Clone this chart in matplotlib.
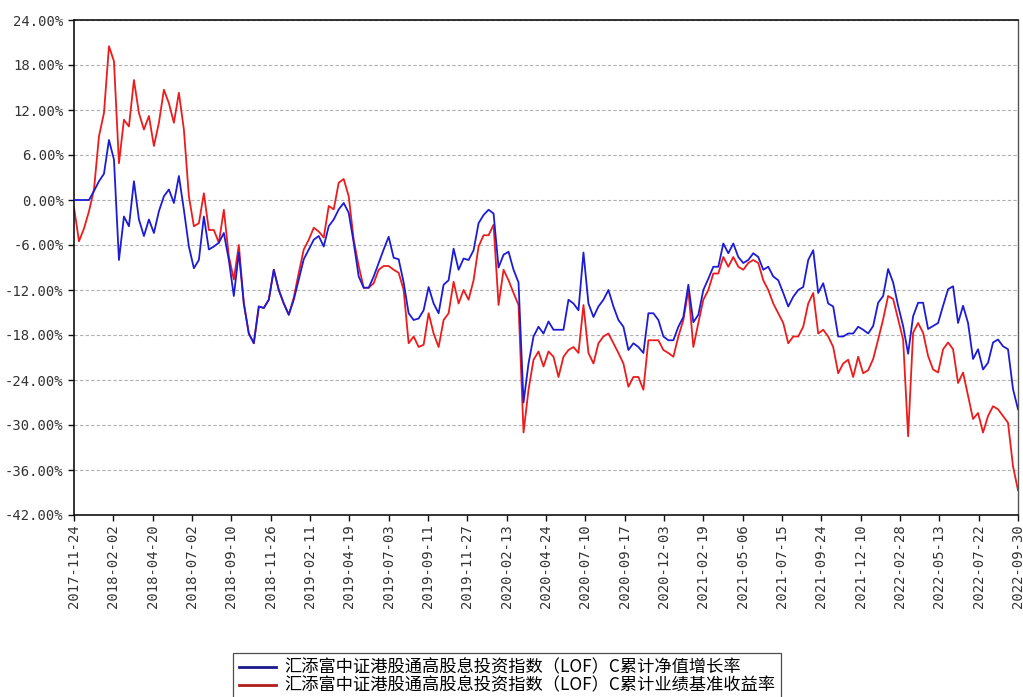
import numpy as np
import matplotlib
matplotlib.use("Agg")
import matplotlib.pyplot as plt
from matplotlib.ticker import FuncFormatter, FixedLocator

plt.rcParams['font.family'] = ['DejaVu Sans Mono', 'Noto Sans CJK SC']

tick_labels = ["2017-11-24", "2018-02-02", "2018-04-20", "2018-07-02", "2018-09-10",
               "2018-11-26", "2019-02-11", "2019-04-19", "2019-07-03", "2019-09-11",
               "2019-11-27", "2020-02-13", "2020-04-24", "2020-07-10", "2020-09-17",
               "2020-12-03", "2021-02-19", "2021-05-06", "2021-07-15", "2021-09-24",
               "2021-12-10", "2022-02-28", "2022-05-13", "2022-07-22", "2022-09-30"]

series_names = ["汇添富中证港股通高股息投资指数（LOF）C累计净值增长率",
                "汇添富中证港股通高股息投资指数（LOF）C累计业绩基准收益率"]

# cumulative NAV growth (%), sampled evenly across the period
nav_growth = [
    0, 0, 0, 0, 1.2, 2.5, 3.5, 8.0, 5.4, -8.0,
    -2.2, -3.5, 2.5, -2.6, -4.8, -2.6, -4.4, -1.5, 0.5, 1.4,
    -0.4, 3.2, -1.3, -6.2, -9.1, -8.0, -2.2, -6.6, -6.2, -5.7,
    -4.4, -8.0, -12.8, -7.0,
    -13.8, -17.8, -19.1, -14.2, -14.4, -13.3, -9.3, -12.0, -13.8, -15.3,
    -13.3, -10.6, -7.9, -6.6, -5.3, -4.8, -6.2, -3.5, -2.6, -1.25,
    -0.4, -1.7, -5.7, -10.2, -11.7, -11.7, -10.2, -8.4, -6.6, -4.9,
    -7.7, -7.9,
    -11.0, -15.1, -16.0, -15.8, -14.7, -11.6, -13.8, -15.1, -11.3, -10.7,
    -6.5, -9.3, -7.8, -8.0, -6.7, -3.1, -2.0, -1.3, -1.8, -9.0,
    -7.3, -6.9, -9.3, -11.0, -27.0, -21.8, -18.2, -16.9, -17.8, -16.2,
    -17.3, -17.3,
    -17.3, -13.3, -13.8, -14.7, -7.0, -13.8, -15.6, -14.2, -13.3, -12.0,
    -14.2, -16.0, -16.9, -20.0, -19.1, -19.6, -20.4, -15.1, -15.1, -16.0,
    -18.2, -18.7, -18.7, -16.9, -15.6, -11.3, -16.3, -15.3, -12.0, -10.5,
    -8.9, -8.9,
    -5.8, -7.1, -5.8, -7.6, -8.4, -8.0, -7.1, -7.6, -9.3, -8.9,
    -10.2, -10.7, -12.4, -14.2, -12.9, -12.0, -11.6, -8.0, -6.7, -12.4,
    -11.1, -13.8, -14.2, -18.2, -18.2, -17.8, -17.8, -16.9, -17.3, -17.8,
    -16.8, -13.7, -12.8, -9.2, -11.0, -14.1, -16.8, -20.5, -15.5, -13.7,
    -13.7, -17.2, -16.8, -16.4, -14.1, -11.9, -11.5, -16.4, -14.1, -16.4,
    -21.2, -19.9, -22.6, -21.7, -19.0, -18.6, -19.5, -19.9, -25.2, -27.9,
]

# cumulative benchmark return (%)
benchmark = [
    -1.0, -5.5, -3.8, -1.5, 1.4, 8.5, 11.6, 20.5, 18.5, 4.9,
    10.7, 9.8, 16.0, 11.6, 9.4, 11.2, 7.2, 10.3, 14.7, 12.9,
    10.3, 14.3, 9.4, 0.5, -3.5, -3.1, 0.9, -4.0, -4.0, -5.7,
    -1.3, -7.5, -10.6, -6.0,
    -13.8, -17.8, -19.1, -14.2, -14.4, -13.3, -9.3, -12.0, -13.8, -15.3,
    -13.0, -9.7, -6.6, -5.3, -3.7, -4.2, -5.0, -0.8, -1.25, 2.3,
    2.8, 0.5, -5.3, -8.8, -11.7, -11.7, -11.1, -9.3, -8.8, -8.8,
    -9.3, -9.7,
    -12.0, -19.1, -18.2, -19.6, -19.3, -15.1, -17.8, -19.6, -16.0, -15.1,
    -10.9, -13.8, -12.0, -13.3, -10.7, -6.2, -4.7, -4.7, -3.3, -14.0,
    -9.3, -10.7, -12.4, -14.0, -31.0, -25.3, -21.3, -20.2, -22.2, -20.2,
    -20.9, -23.6,
    -20.9, -20.0, -19.6, -20.4, -14.0, -20.4, -21.8, -19.1, -18.2, -17.8,
    -19.1, -20.4, -21.8, -24.9, -23.6, -23.6, -25.3, -18.7, -18.7, -18.7,
    -20.0, -20.4, -20.9, -18.2, -16.0, -12.0, -19.6, -16.4, -13.3, -12.0,
    -9.8, -9.8,
    -7.6, -8.9, -7.6, -8.9, -9.3, -8.4, -8.0, -8.4, -10.7, -12.0,
    -13.8, -15.1, -16.4, -19.1, -18.2, -18.2, -16.9, -13.8, -12.4, -17.8,
    -17.3, -18.2, -19.6, -23.1, -21.8, -21.3, -23.6, -20.9, -23.1, -22.7,
    -21.2, -18.6, -15.9, -12.8, -13.2, -15.9, -18.6, -31.5, -17.7, -16.4,
    -17.7, -20.8, -22.6, -23.0, -19.9, -19.0, -19.9, -24.4, -23.0, -26.1,
    -29.2, -28.4, -31.0, -28.8, -27.5, -27.9, -28.8, -29.7, -35.5, -38.7,
]

y_ticks = [24, 18, 12, 6, 0, -6, -12, -18, -24, -30, -36, -42]

n_ticks = len(tick_labels)
x = np.linspace(0, n_ticks - 1, len(nav_growth))

fig = plt.figure(figsize=(10.23, 6.97), dpi=100)
ax = fig.add_axes([74/1023, 1 - 515/697, (1018-74)/1023, (515-20)/697])

ax.plot(x, nav_growth, color='#1c1cd6', lw=1.3, label=series_names[0], zorder=3)
ax.plot(x, benchmark, color='#ec1c1c', lw=1.3, label=series_names[1], zorder=2)

ax.set_xlim(0, n_ticks - 1)
ax.set_ylim(-42, 24)
ax.yaxis.set_major_locator(FixedLocator(y_ticks))
ax.yaxis.set_major_formatter(FuncFormatter(lambda v, p: f"{v:.2f}%"))
ax.set_xticks(np.arange(n_ticks))
ax.set_xticklabels(tick_labels, rotation=90)

ax.grid(axis='y', color='#b0b0b0', linestyle=(0, (3, 2)), linewidth=0.8)
ax.set_axisbelow(True)
for s in ['left', 'bottom', 'top']:
    ax.spines[s].set_color('#111111')
    ax.spines[s].set_linewidth(1.2)
ax.spines['right'].set_color('#555555')
ax.spines['right'].set_linewidth(1.0)

ax.tick_params(axis='both', direction='out', length=4, width=1, colors='#111111',
               labelsize=10, labelcolor='#333333')
ax.tick_params(axis='x', pad=3)

leg = fig.legend(loc='upper center', bbox_to_anchor=(0.496, 1 - 644/697),
                 frameon=True, fancybox=False, edgecolor='#222222',
                 prop={'family': ['Noto Sans CJK SC'], 'size': 12.4},
                 handlelength=2.1, labelspacing=0.0, borderpad=0.35,
                 handletextpad=0.5)
leg.get_frame().set_linewidth(0.9)
for line in leg.get_lines():
    line.set_linewidth(2.0)
leg.get_lines()[0].set_color('#1a1a8c')
leg.get_lines()[1].set_color('#b01c1c')

fig.savefig("out.png", dpi=100)
